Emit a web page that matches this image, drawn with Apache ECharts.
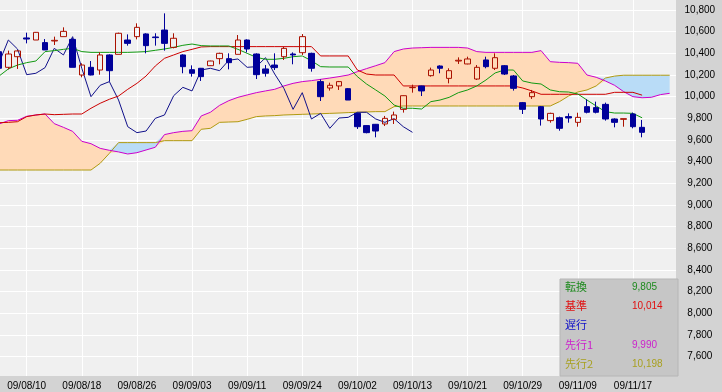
<!DOCTYPE html>
<html><head><meta charset="utf-8">
<script src="https://cdn.jsdelivr.net/npm/echarts@6/dist/echarts.min.js"></script>
<style>html,body{margin:0;padding:0;background:#d3d3d3;overflow:hidden;width:722px;height:392px;position:relative}
#c{position:absolute;left:-1px;top:-12px;width:723px;height:404px}</style>
</head><body><div id="c"></div><script>
// ---- data (index 0 = 09/08/05) ----
const dates = ['09/08/05','09/08/06','09/08/07','09/08/10','09/08/11','09/08/12','09/08/13','09/08/14','09/08/17','09/08/18','09/08/19','09/08/20','09/08/21','09/08/24','09/08/25','09/08/26','09/08/27','09/08/28','09/08/31','09/09/01','09/09/02','09/09/03','09/09/04','09/09/07','09/09/08','09/09/09','09/09/10','09/09/11','09/09/14','09/09/15','09/09/16','09/09/17','09/09/18','09/09/24','09/09/25','09/09/28','09/09/29','09/09/30','09/10/01','09/10/02','09/10/05','09/10/06','09/10/07','09/10/08','09/10/09','09/10/13','09/10/14','09/10/15','09/10/16','09/10/19','09/10/20','09/10/21','09/10/22','09/10/23','09/10/26','09/10/27','09/10/28','09/10/29','09/10/30','09/11/02','09/11/04','09/11/05','09/11/06','09/11/09','09/11/10','09/11/11','09/11/12','09/11/13','09/11/16','09/11/17','09/11/18','09/11/19','09/11/20','09/11/24','09/11/25'];
const openPx = [10415,10271,10369,10542,10523,10499,10514,10554,10529,10200,10271,10246,10385,10391,10523,10554,10579,10551,10615,10455,10385,10249,10262,10286,10351,10351,10391,10523,10394,10256,10292,10369,10394,10406,10400,10139,10080,10099,10074,9846,9733,9745,9748,9791,9883,10083,10099,10194,10283,10169,10329,10302,10163,10339,10262,10286,10191,9945,10000,9908,9779,9806,9816,9763,9908,9899,9929,9794,9791,9840,9717];
const closePx = [10262,10394,10422,10532,10594,10431,10520,10603,10271,10292,10200,10385,10240,10585,10492,10640,10471,10545,10492,10539,10277,10216,10185,10329,10400,10314,10523,10440,10203,10216,10268,10446,10385,10554,10262,10000,10105,10139,9969,9723,9668,9683,9800,9831,10009,10086,10053,10246,10262,10240,10336,10348,10271,10277,10360,10209,10077,9883,10037,9794,9846,9708,9803,9809,9856,9856,9794,9763,9797,9723,9671];
const lowPx = [10255,10252,10256,10492,10523,10431,10477,10554,10271,10179,10197,10203,10139,10391,10471,10529,10400,10471,10425,10446,10216,10185,10145,10283,10299,10252,10391,10409,10163,10185,10246,10339,10299,10385,10231,9960,10056,10062,9969,9702,9662,9625,9729,9748,9853,10037,10006,10185,10216,10123,10302,10299,10154,10262,10246,10200,10056,9840,9979,9733,9760,9686,9760,9723,9846,9846,9779,9717,9723,9708,9625];
const highPx = [10420,10425,10431,10591,10597,10532,10554,10640,10539,10308,10329,10409,10391,10591,10575,10677,10585,10585,10769,10585,10391,10289,10265,10332,10406,10400,10569,10529,10400,10292,10400,10462,10409,10578,10406,10160,10129,10145,10080,9853,9736,9748,9822,9862,10012,10111,10102,10268,10289,10262,10363,10369,10292,10369,10400,10292,10200,9951,10062,9914,9852,9816,9846,9852,9976,9954,9945,9800,9797,9853,9785];
const tenkan = [10191,10256,10292,10314,10329,10416,10425,10437,10446,10416,10409,10409,10409,10409,10409,10412,10416,10428,10440,10455,10474,10486,10471,10468,10468,10468,10437,10400,10363,10345,10345,10354,10369,10376,10332,10277,10274,10274,10274,10185,10117,10062,10006,9923,9893,9893,9886,9954,9969,9994,10037,10062,10099,10154,10219,10246,10246,10145,10126,10117,10062,10046,10043,10025,9969,9914,9862,9849,9849,9846,9805];
const kijun = [9760,9763,9769,9816,9831,9840,9834,9837,9840,9840,9893,9939,9976,10006,10068,10123,10191,10283,10354,10385,10416,10437,10459,10462,10462,10462,10462,10462,10462,10462,10462,10462,10462,10462,10462,10376,10376,10376,10376,10246,10209,10200,10200,10200,10099,10099,10099,10099,10099,10099,10099,10099,10099,10099,10099,10099,10099,10080,10053,10022,10022,10022,10022,10022,10022,10022,10022,10040,10040,10040,10014];
const chikou = [10314,10523,10440,10203,10216,10268,10446,10385,10554,10262,10000,10105,10139,9969,9723,9668,9683,9800,9831,10009,10086,10053,10246,10262,10240,10336,10348,10271,10277,10360,10209,10077,9883,10037,9794,9846,9708,9803,9809,9856,9856,9794,9763,9797,9723,9671];
const senkou1 = [9748,9779,9782,9819,9831,9840,9751,9717,9680,9588,9566,9523,9505,9490,9471,9483,9508,9533,9650,9668,9680,9686,9822,9856,9920,9963,9994,10016,10037,10053,10068,10099,10123,10139,10148,10160,10172,10185,10200,10231,10259,10286,10314,10416,10440,10449,10452,10455,10455,10455,10455,10449,10416,10409,10409,10409,10409,10409,10409,10425,10323,10317,10314,10308,10200,10179,10145,10105,10046,10000,9990,9994,10019,10031];
const senkou2 = [9323,9323,9323,9323,9323,9323,9323,9323,9323,9323,9323,9385,9477,9576,9576,9576,9576,9576,9594,9594,9594,9594,9699,9708,9763,9766,9769,9791,9816,9822,9825,9831,9834,9837,9840,9843,9846,9849,9853,9856,9859,9862,9862,9908,9914,9914,9914,9914,9914,9914,9914,9914,9914,9914,9914,9914,9914,9914,9914,9914,9914,9954,10006,10043,10062,10099,10172,10190,10198,10198,10198,10198,10198,10198];
const legendNames = ['転換','基準','遅行','先行1','先行2'];
const legendValues = ['9,805','10,014','','9,990','10,198'];
const legendColors = ['#1e8a1e','#e01010','#1010c8','#cc22cc','#a8a020'];

// ---- build ----
const candles = openPx.map((o,j)=>[o, closePx[j], lowPx[j], highPx[j]]);
const cloudBase = senkou1.map((a,j)=>Math.min(a, senkou2[j]));
const cloudUp = senkou1.map((a,j)=>Math.max(0, a - senkou2[j]));
const cloudDn = senkou1.map((a,j)=>Math.max(0, senkou2[j] - a));
const isLabel = k => k >= 3 && k <= 69 && (k - 3) % 6 === 0;

// chart canvas is offset by (1,12) relative to the page
const OX = 1, OY = 12;
const GRID = {left:0.145, top:0.33, width:679.7, height:390.05};
const FONT = 'Liberation Sans';

function lineS(name, data, color){
  return {name, type:'line', xAxisIndex:0, yAxisIndex:0, data:data, symbol:'none',
    lineStyle:{color, width:1}, itemStyle:{color}, silent:true, z:3};
}
function cloudS(name, data, fill){
  const s = {name, type:'line', xAxisIndex:0, yAxisIndex:0, data:data, stack:'cloud', stackStrategy:'all',
    symbol:'none', lineStyle:{width:0, opacity:0}, silent:true, z:2};
  if (fill) s.areaStyle = {color:fill, opacity:1};
  return s;
}

const graphic = [
  {type:'rect', shape:{x:676+OX, y:0, width:60, height:420}, style:{fill:'#d3d3d3'}, z:1},
  {type:'rect', shape:{x:0, y:376+OY, width:740, height:30}, style:{fill:'#d3d3d3'}, z:1},
  {type:'rect', shape:{x:560+OX, y:279+OY, width:118, height:97}, style:{fill:'#c6c6c6', stroke:'#b6b6b6', lineWidth:1}, z:4}
];
const rowY = [287, 306, 325, 345, 364];
legendNames.forEach((n,i)=>{
  graphic.push({type:'text', x:565+OX, y:rowY[i]+OY, z:5,
    style:{text:n, fill:legendColors[i], fontSize:11, fontFamily:'Noto Sans CJK JP', verticalAlign:'middle'}});
  if (legendValues[i]) graphic.push({type:'text', x:632+OX, y:rowY[i]+OY, z:5,
    style:{text:legendValues[i], fill:legendColors[i], fontSize:10, fontFamily:FONT, verticalAlign:'middle'}});
});

const chart = echarts.init(document.getElementById('c'), null, {renderer:'canvas'});
chart.setOption({
  animation:false,
  backgroundColor:'#d3d3d3',
  grid:[
    Object.assign({show:true, backgroundColor:'#f0f0f0', borderWidth:0}, GRID),
    Object.assign({show:false}, GRID)
  ],
  xAxis:[
    {type:'category', gridIndex:0, data:dates, boundaryGap:false,
      axisLine:{show:false}, axisTick:{show:false}, axisLabel:{show:false},
      splitLine:{show:true, interval:(k)=>isLabel(k), lineStyle:{color:'#ffffff', width:1}}},
    {type:'category', gridIndex:1, data:dates, boundaryGap:false, z:10,
      axisLine:{show:false}, axisTick:{show:false}, splitLine:{show:false},
      axisLabel:{show:true, interval:(k)=>isLabel(k), margin:3, fontSize:10, fontFamily:FONT, color:'#000'}}
  ],
  yAxis:[
    {type:'value', gridIndex:0, position:'right', min:7400, max:11000, interval:200,
      axisLine:{show:false}, axisTick:{show:false}, axisLabel:{show:false},
      splitLine:{show:true, lineStyle:{color:'#ffffff', width:1}}},
    {type:'value', gridIndex:1, position:'right', min:7400, max:11000, interval:200, z:10,
      axisLine:{show:false}, axisTick:{show:false}, splitLine:{show:false},
      axisLabel:{show:true, margin:21, align:'center', fontSize:10, fontFamily:FONT, color:'#000', padding:[6,0,0,0],
        formatter:(v)=> (v<=7400 || v>=11000) ? '' : v.toLocaleString('en-US')}}
  ],
  graphic:graphic,
  series:[
    cloudS('base', cloudBase, null),
    cloudS('up', cloudUp, '#ffdab8'),
    cloudS('dn', cloudDn, '#b9dcf7'),
    lineS('先行2', senkou2, '#b09a10'),
    lineS('先行1', senkou1, '#cc00cc'),
    lineS('遅行', chikou, '#10108a'),
    lineS('基準', kijun, '#cc0000'),
    lineS('転換', tenkan, '#119911'),
    {name:'price', type:'candlestick', xAxisIndex:0, yAxisIndex:0, data:candles, barWidth:6, z:4, silent:true,
      itemStyle:{color:'transparent', color0:'#00009a', borderColor:'#aa1100', borderColor0:'#00009a', borderWidth:1}}
  ]
});
</script></body></html>
